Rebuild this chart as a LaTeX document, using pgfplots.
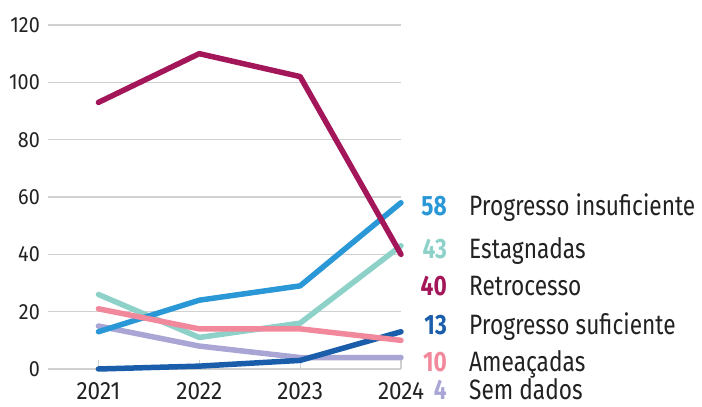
\documentclass[border=0pt]{standalone}
\usepackage{pgfplots}
\pgfplotsset{compat=1.18}
\usepackage{fontspec}
\setmainfont{Fira Sans}
\newfontfamily\cond[FakeStretch=0.81]{Fira Sans}
\newfontfamily\condnum[FakeStretch=0.9]{Fira Sans}
\definecolor{cRet}{HTML}{A3165A}
\definecolor{cPI}{HTML}{2A98D6}
\definecolor{cEst}{HTML}{8ED1C9}
\definecolor{cPS}{HTML}{1A5EAB}
\definecolor{cAme}{HTML}{F2889B}
\definecolor{cSem}{HTML}{A9A6D6}
\definecolor{cGrid}{HTML}{D0D0D0}
\definecolor{cTxt}{HTML}{222222}
\begin{document}
\begin{tikzpicture}
\begin{axis}[
  at={(48pt,38pt)}, anchor=south west,
  scale only axis, width=353pt, height=344pt,
  xmin=2020.5, xmax=2024, ymin=0, ymax=120,
  axis lines=none,
  clip=false,
  xtick={2021,2022,2023,2024},
  ytick={0,20,40,60,80,100,120},
  xticklabels={},yticklabels={},
  every axis plot/.append style={line width=5.5pt, line cap=round, line join=round},
]
% grid lines
\pgfplotsinvokeforeach{0,20,40,60,80,100,120}{
  \draw[cGrid, line width=1.6pt] (axis cs:2020.5,#1) -- (axis cs:2024,#1);
  \node[anchor=east, text=cTxt, font=\fontsize{22}{26}\selectfont\condnum, inner sep=0pt] at (axis cs:2020.5,#1) [xshift=-8pt] {#1};
}
\pgfplotsinvokeforeach{2021,2022,2023,2024}{
  \draw[cGrid, line width=1.1pt] (axis cs:#1,0) -- ++(0pt,9pt);
  \node[anchor=base, text=cTxt, font=\fontsize{25}{29}\selectfont\condnum, inner sep=0pt] at (axis cs:#1,0) [yshift=-31pt] {#1};
}
\addplot[cSem] coordinates {(2021,15) (2022,8) (2023,4) (2024,4)};
\addplot[cEst] coordinates {(2021,26) (2022,11) (2023,16) (2024,43)};
\addplot[cPS] coordinates {(2021,0) (2022,1) (2023,3) (2024,13)};
\addplot[cPI] coordinates {(2021,13) (2022,24) (2023,29) (2024,58)};
\addplot[cAme] coordinates {(2021,21) (2022,14) (2023,14) (2024,10)};
\addplot[cRet] coordinates {(2021,93) (2022,110) (2023,102) (2024,40)};
% labels
\def\lab#1#2#3#4{%
  \node[anchor=base east, text=#3, font=\fontsize{28}{32}\selectfont\cond\bfseries, inner sep=0pt] at (axis cs:2024,#1) [xshift=46pt] {#2};
  \node[anchor=base west, text=cTxt, font=\fontsize{28}{32}\selectfont\cond, inner sep=0pt] at (axis cs:2024,#1) [xshift=68pt] {#4};
}
\lab{53.7}{58}{cPI}{Progresso insuficiente}
\lab{38.4}{43}{cEst}{Estagnadas}
\lab{25.8}{40}{cRet}{Retrocesso}
\lab{11.9}{13}{cPS}{Progresso suficiente}
\lab{-0.7}{10}{cAme}{Ameaçadas}
\lab{-10.5}{4}{cSem}{Sem dados}
\end{axis}
\useasboundingbox (0,0) rectangle (702pt,407pt);
\end{tikzpicture}
\end{document}
